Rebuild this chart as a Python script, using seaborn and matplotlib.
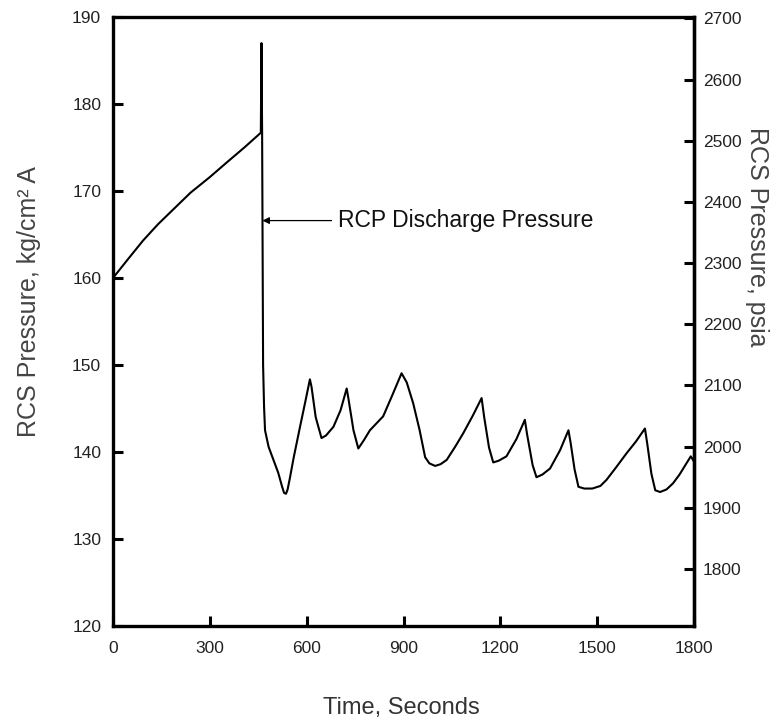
import numpy as np
import pandas as pd
import matplotlib
matplotlib.use("Agg")
import matplotlib.pyplot as plt
import seaborn as sns

# ---- data ----
time_s = [0, 45, 93, 140, 190, 240, 300, 353, 410, 458,
          460, 462, 465, 468, 471, 482, 497, 512, 524, 530, 536, 541, 548, 560, 580, 597,
          610, 615, 628, 646, 660, 683, 705,
          724, 730, 745, 760, 778, 796, 837, 865,
          894, 910, 930, 950, 967, 980, 998, 1015, 1034, 1060, 1085, 1115,
          1142, 1150, 1165, 1178, 1195, 1219, 1250,
          1276, 1283, 1300, 1312, 1330, 1354, 1385,
          1411, 1418, 1430, 1442, 1460, 1485, 1510, 1529, 1560, 1591, 1620,
          1648, 1655, 1668, 1680, 1695, 1715, 1735, 1755, 1775, 1790, 1800]
pressure_kg = [160.0, 162.1, 164.3, 166.2, 168.0, 169.8, 171.6, 173.3, 175.1, 176.7,
               187.0, 176.5, 150.0, 145.2, 142.5, 140.6, 139.1, 137.6, 136.0, 135.3, 135.2, 135.7, 137.0, 139.4, 143.0, 146.0,
               148.35, 147.5, 144.0, 141.6, 141.9, 142.9, 144.8,
               147.3, 146.0, 142.5, 140.4, 141.4, 142.5, 144.1, 146.5,
               149.05, 148.0, 145.6, 142.5, 139.4, 138.7, 138.4, 138.6, 139.1, 140.6, 142.15, 144.2,
               146.2, 144.0, 140.5, 138.8, 139.0, 139.5, 141.5,
               143.7, 142.0, 138.5, 137.1, 137.4, 138.1, 140.2,
               142.5, 141.0, 138.0, 136.0, 135.8, 135.8, 136.1, 136.8, 138.3, 139.85, 141.2,
               142.7, 141.0, 137.5, 135.6, 135.4, 135.7, 136.4, 137.4, 138.6, 139.5, 138.9]

x_ticks = [0, 300, 600, 900, 1200, 1500, 1800]
y_ticks_kg = [120, 130, 140, 150, 160, 170, 180, 190]
y_ticks_psia = [1800, 1900, 2000, 2100, 2200, 2300, 2400, 2500, 2600, 2700]
KG_TO_PSI = 14.223

annotation_text = "RCP Discharge Pressure"
annot_time, annot_value = 463, 166.6
annot_text_time = 697

df = pd.DataFrame({"Time": time_s, "Pressure": pressure_kg})

sns.set_theme(style="ticks")
plt.rcParams["font.family"] = ["Liberation Sans", "DejaVu Sans"]

W, H = 784, 721
fig = plt.figure(figsize=(W / 100, H / 100), dpi=100)
ax = fig.add_axes([113 / W, 1 - 626 / H, 581 / W, 609 / H])

sns.lineplot(data=df, x="Time", y="Pressure", ax=ax, color="black",
             linewidth=1.5, sort=False, estimator=None)

ax.set_xlim(0, 1800)
ax.set_ylim(120, 190)
ax.set_xticks(x_ticks)
ax.set_yticks(y_ticks_kg)
ax.set_xlabel("")
ax.set_ylabel("")

for s in ax.spines.values():
    s.set_linewidth(2.4)
    s.set_color("black")

ax.tick_params(axis="both", direction="in", length=7.5, width=2.2,
               color="black", labelsize=12.5, labelcolor="#222222")
ax.tick_params(axis="y", pad=8.5, left=True, right=False)
ax.tick_params(axis="x", pad=11, bottom=True, top=False)

sec = ax.secondary_yaxis("right", functions=(lambda v: v * KG_TO_PSI,
                                             lambda v: v / KG_TO_PSI))
sec.set_yticks(y_ticks_psia)
sec.tick_params(direction="in", length=7.5, width=2.2, color="black",
                labelsize=12.5, labelcolor="#222222", pad=6.5)
sec.spines["right"].set_linewidth(2.4)

# annotation arrow
ax.annotate("", xy=(annot_time, annot_value), xytext=(annot_text_time - 20, annot_value),
            arrowprops=dict(arrowstyle="-|>", color="black", lw=0.9,
                            mutation_scale=10, shrinkA=0, shrinkB=0))
ax.text(annot_text_time, annot_value, annotation_text, fontsize=16.5,
        ha="left", va="center", color="#111111")

# axis titles
fig.text(29 / W, 1 - 302 / H, "RCS Pressure, kg/cm² A", rotation=90,
         ha="center", va="center", fontsize=18, color="#444444")
fig.text(757 / W, 1 - 237 / H, "RCS Pressure, psia", rotation=270,
         ha="center", va="center", fontsize=18, color="#444444")
fig.text(401 / W, 1 - 708 / H, "Time, Seconds", ha="center", va="center",
         fontsize=17, color="#333333")

fig.savefig("out.png", dpi=100)
